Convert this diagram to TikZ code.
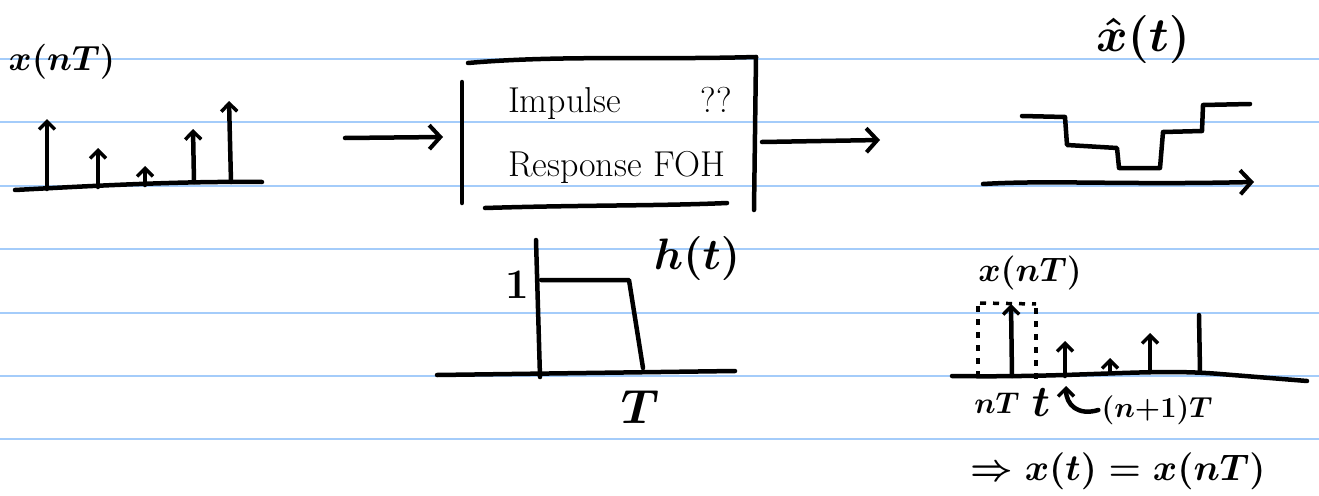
\documentclass[tikz,border=0pt]{standalone}
\usetikzlibrary{arrows.meta}
\definecolor{ruleblue}{RGB}{164,204,250}
\tikzset{
  ink/.style={line width=4.5pt, line cap=round, line join=round, black},
  paperline/.style={line width=2pt, ruleblue},
  bigbarb/.style={-{Straight Barb[length=11pt,width=24pt,line width=4pt]}},
  stembarb/.style={-{Straight Barb[length=8pt,width=16pt,line width=3.5pt]}},
  dotline/.style={line width=3.5pt, dash pattern=on 6pt off 7pt, line cap=butt, black},
  hand/.style={inner sep=0pt, font=\fontsize{36}{64}\selectfont},
  lbl/.style={inner sep=0pt, font=\boldmath\huge, scale=#1/20.74},
  lbl/.default=40,
}
\begin{document}
\begin{tikzpicture}[x=1pt, y=-1pt]
  \useasboundingbox (0,0) rectangle (1319,495);
  \fill[white] (0,0) rectangle (1319,495);

  % ruled paper
  \foreach \y in {59,122,186,249,313,376,439}
    \draw[paperline] (0,\y) -- (1319,\y);

  % --- sampled input x(nT) ---
  \node[lbl=35] (xnT) at (62,62) {$x(nT)$};
  \coordinate (a0) at (15,190);
  \coordinate (a1) at (262,182);
  \draw[ink] (a0) .. controls (90,186) and (180,181) .. (a1);
  \draw[ink, stembarb] (47,189) -- (47,119);
  \draw[ink, stembarb] (98,187) -- (98,148);
  \draw[ink, stembarb] (145,185) -- (145,166);
  \draw[ink, stembarb] (194,182) -- (193,129);
  \draw[ink, stembarb] (231,182) -- (229,101);

  % --- hold system block ---
  \node[hand, align=left, text width=224pt] (sys) at (620,135)
    {Impulse\hfill??\\\mbox{Response FOH}};
  \coordinate (bl1) at (462,82);
  \coordinate (bl2) at (462,203);
  \draw[ink] (bl1) -- (bl2);
  \draw[ink] (468,63) .. controls (560,55) and (650,60) .. (756,57);
  \draw[ink] (756,57) -- (754,210);
  \draw[ink] (485,208) .. controls (580,205) and (660,206) .. (727,203);

  % connectors in and out of the block
  \coordinate (inStart) at (345,138);
  \coordinate (inEnd) at (443,137);
  \draw[ink, bigbarb] (inStart) -- (inEnd);
  \coordinate (outStart) at (762,142);
  \coordinate (outEnd) at (880,140);
  \draw[ink, bigbarb] (outStart) -- (outEnd);

  % --- reconstructed output \hat{x}(t) ---
  \node[lbl=48] (xhat) at (1143,40) {$\hat{x}(t)$};
  \draw[ink] (1022,116) -- (1065,117) -- (1067,145) -- (1117,148)
     -- (1119,168) -- (1160,168) -- (1163,132) -- (1202,131)
     -- (1203,105) -- (1250,104);
  \coordinate (o0) at (983,184);
  \coordinate (o1) at (1254,182);
  \draw[ink, bigbarb] (o0) .. controls (1050,180) and (1120,185) .. (o1);

  % --- impulse response h(t) ---
  \coordinate (h0) at (437,375);
  \coordinate (h1) at (735,371);
  \draw[ink] (h0) -- (h1);
  \draw[ink] (536,240) -- (540,377);
  \draw[ink] (541,280) -- (629,280) -- (643,368);
  \node[lbl=42] (one) at (517,285) {$1$};
  \node[lbl=44] (hlbl) at (697,258) {$h(t)$};
  \node[lbl=48] (Tlbl) at (640,407) {$T$};

  % --- hold illustration ---
  \node[lbl=34] (xnT2) at (1030,273) {$x(nT)$};
  \coordinate (b0) at (952,376);
  \coordinate (b1) at (1307,381);
  \draw[ink] (b0) .. controls (1080,378) and (1150,368) .. (1220,374) -- (b1);
  \draw[dotline] (978,306) -- (978,378);
  \draw[dotline] (980,303) -- (1036,304);
  \draw[dotline] (1036,308) -- (1036,386);
  \draw[ink, stembarb] (1012,376) -- (1011,304);
  \draw[ink, stembarb] (1065,376) -- (1065,341);
  \draw[ink, stembarb] (1110,371) -- (1110,358);
  \draw[ink, stembarb] (1150,372) -- (1150,333);
  \draw[ink] (1200,372) -- (1199,315);
  \node[lbl=30] (nT) at (997,403) {$nT$};
  \node[lbl=44] (tlbl) at (1041,403) {$t$};
  \node[lbl=29] (n1T) at (1157,410) {$(n{+}1)T$};
  \draw[ink, stembarb] ([xshift=-3pt]n1T.west) .. controls (1078,416) and (1066,405) .. (1066,386);
  \node[lbl=37] (hold) at (1118,471) {$\Rightarrow x(t) = x(nT)$};
\end{tikzpicture}
\end{document}
